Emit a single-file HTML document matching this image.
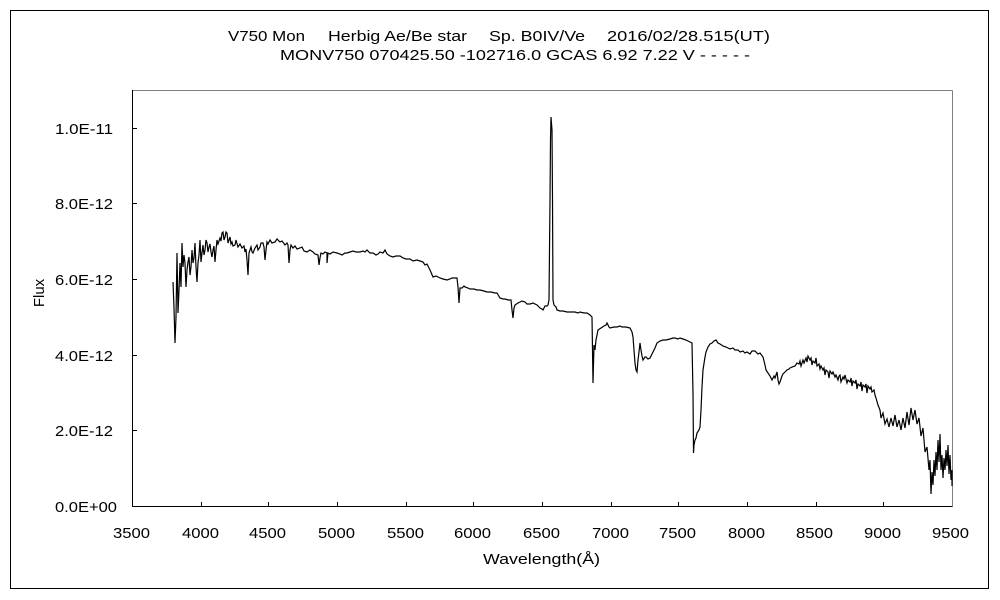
<!DOCTYPE html>
<html>
<head>
<meta charset="utf-8">
<style>
  html,body{margin:0;padding:0;background:#fff;}
  svg{display:block;}
  text{font-family:"Liberation Sans","Noto Sans CJK JP",sans-serif;fill:#000;}
</style>
</head>
<body>
<svg width="1000" height="600" viewBox="0 0 1000 600" xmlns="http://www.w3.org/2000/svg">
  <rect x="0" y="0" width="1000" height="600" fill="#fff"/>
  <rect x="10.5" y="10.5" width="978" height="578" fill="none" stroke="#000" stroke-width="1"/>

  <text x="228" y="41" font-size="15" textLength="77" lengthAdjust="spacingAndGlyphs">V750 Mon</text>
  <text x="328" y="41" font-size="15" textLength="139" lengthAdjust="spacingAndGlyphs">Herbig Ae/Be star</text>
  <text x="489" y="41" font-size="15" textLength="96" lengthAdjust="spacingAndGlyphs">Sp. B0IV/Ve</text>
  <text x="607" y="41" font-size="15" textLength="163" lengthAdjust="spacingAndGlyphs">2016/02/28.515(UT)</text>
  <text x="280" y="60" font-size="15" textLength="470" lengthAdjust="spacingAndGlyphs">MONV750 070425.50 -102716.0 GCAS 6.92 7.22 V - - - - -</text>

  <line x1="132.5" y1="90.5" x2="952.5" y2="90.5" stroke="#808080" stroke-width="1"/>
  <line x1="952.5" y1="90.5" x2="952.5" y2="506.5" stroke="#808080" stroke-width="1"/>
  <line x1="132.5" y1="90" x2="132.5" y2="506.5" stroke="#000" stroke-width="1"/>
  <line x1="132" y1="506.5" x2="952.5" y2="506.5" stroke="#000" stroke-width="1"/>

  <g stroke="#000" stroke-width="1">
    <line x1="133" y1="128.5" x2="137" y2="128.5"/>
    <line x1="133" y1="203.5" x2="137" y2="203.5"/>
    <line x1="133" y1="279.5" x2="137" y2="279.5"/>
    <line x1="133" y1="355.5" x2="137" y2="355.5"/>
    <line x1="133" y1="430.5" x2="137" y2="430.5"/>
  </g>
  <g stroke="#000" stroke-width="1">
    <line x1="201.5" y1="502" x2="201.5" y2="506"/>
    <line x1="268.5" y1="502" x2="268.5" y2="506"/>
    <line x1="337.5" y1="502" x2="337.5" y2="506"/>
    <line x1="406.5" y1="502" x2="406.5" y2="506"/>
    <line x1="473.5" y1="502" x2="473.5" y2="506"/>
    <line x1="542.5" y1="502" x2="542.5" y2="506"/>
    <line x1="611.5" y1="502" x2="611.5" y2="506"/>
    <line x1="678.5" y1="502" x2="678.5" y2="506"/>
    <line x1="747.5" y1="502" x2="747.5" y2="506"/>
    <line x1="816.5" y1="502" x2="816.5" y2="506"/>
    <line x1="883.5" y1="502" x2="883.5" y2="506"/>
  </g>

  <g font-size="15">
    <text x="55" y="134" textLength="58" lengthAdjust="spacingAndGlyphs">1.0E-11</text>
    <text x="55" y="209" textLength="58" lengthAdjust="spacingAndGlyphs">8.0E-12</text>
    <text x="55" y="285" textLength="58" lengthAdjust="spacingAndGlyphs">6.0E-12</text>
    <text x="55" y="361" textLength="58" lengthAdjust="spacingAndGlyphs">4.0E-12</text>
    <text x="55" y="436" textLength="58" lengthAdjust="spacingAndGlyphs">2.0E-12</text>
    <text x="55" y="512" textLength="62" lengthAdjust="spacingAndGlyphs">0.0E+00</text>
  </g>
  <g font-size="15">
    <text x="113" y="538" textLength="37" lengthAdjust="spacingAndGlyphs">3500</text>
    <text x="182" y="538" textLength="37" lengthAdjust="spacingAndGlyphs">4000</text>
    <text x="249" y="538" textLength="37" lengthAdjust="spacingAndGlyphs">4500</text>
    <text x="318" y="538" textLength="37" lengthAdjust="spacingAndGlyphs">5000</text>
    <text x="387" y="538" textLength="37" lengthAdjust="spacingAndGlyphs">5500</text>
    <text x="454" y="538" textLength="37" lengthAdjust="spacingAndGlyphs">6000</text>
    <text x="523" y="538" textLength="37" lengthAdjust="spacingAndGlyphs">6500</text>
    <text x="592" y="538" textLength="37" lengthAdjust="spacingAndGlyphs">7000</text>
    <text x="659" y="538" textLength="37" lengthAdjust="spacingAndGlyphs">7500</text>
    <text x="728" y="538" textLength="37" lengthAdjust="spacingAndGlyphs">8000</text>
    <text x="796" y="538" textLength="37" lengthAdjust="spacingAndGlyphs">8500</text>
    <text x="864" y="538" textLength="37" lengthAdjust="spacingAndGlyphs">9000</text>
    <text x="932" y="538" textLength="37" lengthAdjust="spacingAndGlyphs">9500</text>
  </g>
  <text x="483" y="564" font-size="15" textLength="117" lengthAdjust="spacingAndGlyphs">Wavelength(Å)</text>
  <text x="0" y="0" font-size="15" text-anchor="middle" transform="translate(44,293) rotate(-90)">Flux</text>

  <polyline fill="none" stroke="#000" stroke-width="1.2" stroke-linejoin="miter" points="
173,282 174,308 175,343 176,317 177,253 178,313 179,290 180,263 181,287 182,243 183,267 184,255 185,263 186,287 187,270 188,262 189,257 190,275 191,267 192,250 193,263 194,258 195,243 196,267 197,282 198,263 199,255 200,240 201,262 202,253 203,245 204,255 205,250 206,240 207,243 208,252 209,247 210,244 211,252 212,257 213,250 214,246 215,262 216,250 217,240 218,244 220,238 221,241 222,233 223,232 224,240 225,237 226,232 227,233 228,243 229,240 230,237 231,244 232,242 233,246 235,245 236,240 238,247 240,244 242,248 244,246 245,252 246,249 247,260 248,275 249,253 250,250 251,247 252,252 253,253 255,248 257,245 258,250 260,247 261,243 263,243 264,247 265,260 266,250 267,242 268,244 270,240 272,243 275,242 277,239 280,242 282,241 285,245 287,243 288,245 289,263 290,250 291,245 293,248 295,246 297,249 300,248 302,247 304,251 307,252 310,250 313,252 315,254 318,255 319,265 320,258 321,253 323,254 325,252 327,253 327,263 328,253 330,254 333,252 337,253 340,254 342,255 345,253 347,253 350,252 353,251 356,252 360,252 363,251 365,252 367,250 370,253 373,253 376,255 378,254 380,252 383,253 385,250 387,254 390,256 393,257 396,256 400,256 403,258 406,259 410,259 413,261 417,260 420,261 423,262 425,265 427,264 430,270 433,277 436,276 440,278 443,279 447,280 450,279 452,278 455,278 457,278 458,287 459,303 460,288 462,288 464,286 465,287 468,288 470,289 474,289 477,290 480,290 484,291 487,292 491,292 495,293 497,293 500,298 503,299 505,299 508,300 511,300 512,310 513,318 514,308 515,305 518,303 520,302 522,301 525,302 527,304 530,304 533,303 537,305 540,308 542,309 543,310 545,306 547,306 548,305 549,300 550,200 550.5,140 551,117 552,130 552.5,200 553,300 554,305 556,307 557,310 560,311 563,311 567,312 571,312 575,312 578,313 580,312 584,313 587,313 590,315 592,317 593,383 594,345 595,350 596,340 597,335 598,330 601,328 604,326 606,325 607,323 609,327 610,328 614,327 617,327 620,326 622,327 626,327 630,328 632,332 633,337 634,350 635,363 636,370 637,372 638,360 639,352 640,343 641,350 642,356 643,360 645,357 646,357 648,359 650,358 652,354 653,352 655,348 657,343 660,341 663,340 666,340 670,339 673,338 675,338 678,339 680,338 683,339 686,340 690,342 692,343 693,393 693.5,453 694,445 695,440 696,438 697,433 699,430 700,427 701,410 702,387 703,370 705,357 706,352 708,347 710,344 712,343 714,341 716,340 718,343 720,344 723,346 726,347 730,349 733,348 735,350 738,350 740,352 743,351 745,353 747,352 750,354 752,351 755,351 758,354 760,353 763,357 765,365 766,370 768,373 770,376 772,380 774,376 775,378 777,372 778,380 779,384 780,382 782,376 783,374 785,372 787,370 789,369 790,368 792,367 795,366 797,363 799,364 800,361 801,366 803,360 804,363 806,358 807,362 808,356 810,360 811,358 812,365 813,361 815,363 816,358 817,366 819,364 820,369 821,366 823,370 824,368 825,375 826,370 828,372 829,378 830,371 832,374 833,372 835,377 836,375 838,380 839,376 840,375 841,382 843,377 844,379 845,375 847,383 848,380 850,382 851,378 852,386 853,381 855,383 856,380 857,389 858,384 860,386 861,382 862,391 863,385 865,387 866,384 867,393 868,386 870,389 871,387 872,392 874,390 875,395 876,398 878,405 880,410 881,418 883,413 885,424 887,419 889,427 891,418 893,426 895,415 897,427 899,420 901,430 903,418 905,428 907,412 909,425 911,408 913,420 915,410 917,424 919,418 921,436 923,428 925,452 927,447 929,470 930,460 931,494 932,472 933,485 934,460 935,476 936,452 937,470 938,440 939,462 940,434 941,470 942,455 943,478 944,458 945,470 946,450 947,466 948,445 949,474 950,455 951,480 952,470 952,486"/>
</svg>
</body>
</html>
